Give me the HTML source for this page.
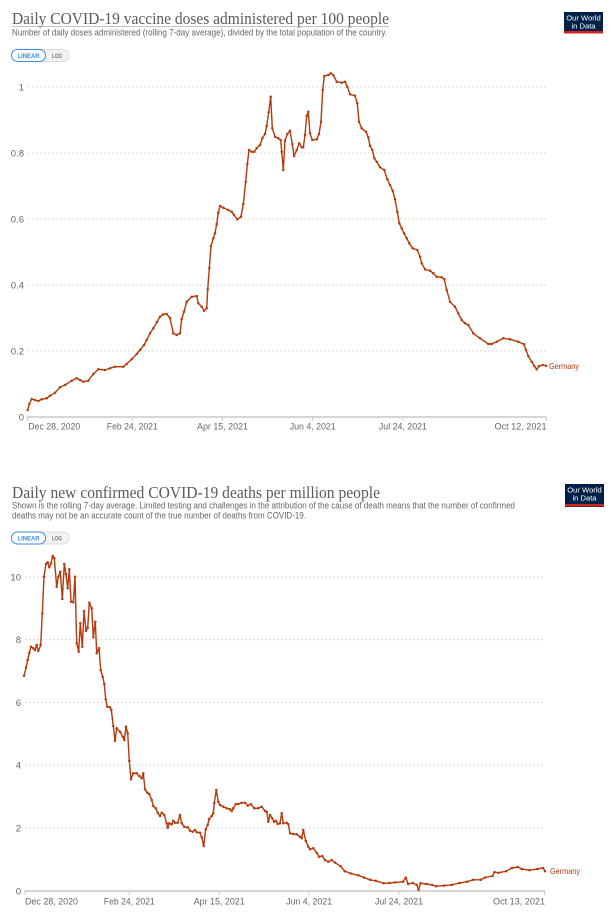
<!DOCTYPE html>
<html>
<head>
<meta charset="utf-8">
<style>
html,body{margin:0;padding:0;background:#fff;}
svg{display:block;}
text{font-family:"Liberation Sans",sans-serif;}
.ttl{font-family:"Liberation Serif",serif;font-size:17px;fill:#5b5b5b;}
.sub{font-size:9px;fill:#666;}
.yl{font-size:9.5px;fill:#666;text-anchor:end;}
.xl{font-size:9.5px;fill:#666;}
.grid{stroke:#d9d9d9;stroke-width:1;stroke-dasharray:2,2;}
.axis{stroke:#c8c8c8;stroke-width:1.5;}
.tick{stroke:#c8c8c8;stroke-width:1;}
.ser{fill:none;stroke:#b5390c;stroke-width:1.4;stroke-linejoin:round;marker-start:url(#dot);marker-mid:url(#dot);marker-end:url(#dot);}
.lab{font-size:8.5px;fill:#b5390c;}
.btn{font-size:6.5px;font-weight:bold;}
.logo{font-size:7.6px;fill:#fff;text-anchor:middle;}
</style>
</head>
<body>
<svg width="613" height="923" viewBox="0 0 613 923" xmlns="http://www.w3.org/2000/svg">
<defs>
<marker id="dot" markerWidth="4" markerHeight="4" refX="2" refY="2" markerUnits="userSpaceOnUse">
<circle cx="2" cy="2" r="1.25" fill="#b5390c"/>
</marker>
</defs>

<!-- ============ CHART 1 ============ -->
<text class="ttl" x="12" y="24" textLength="377" lengthAdjust="spacingAndGlyphs">Daily COVID-19 vaccine doses administered per 100 people</text>
<line x1="12" y1="26.5" x2="389" y2="26.5" stroke="#b0b0b0" stroke-width="0.8"/>
<text class="sub" x="12" y="35.5" textLength="375" lengthAdjust="spacingAndGlyphs">Number of daily doses administered (rolling 7-day average), divided by the total population of the country.</text>

<!-- buttons -->
<rect x="11.5" y="49.5" width="57.5" height="12" rx="6" fill="#f2f2f2" stroke="#dcdcdc" stroke-width="1"/>
<rect x="11.5" y="49.5" width="34" height="12" rx="6" fill="#fff" stroke="#3b8ee3" stroke-width="1"/>
<text class="btn" x="28.5" y="58" text-anchor="middle" fill="#3b8ee3" textLength="22" lengthAdjust="spacingAndGlyphs">LINEAR</text>
<text class="btn" x="57" y="58" text-anchor="middle" fill="#777" font-weight="normal" textLength="10" lengthAdjust="spacingAndGlyphs">LOG</text>

<!-- logo -->
<rect x="564" y="12" width="39" height="21.5" fill="#002147"/>
<rect x="564" y="31" width="39" height="2.5" fill="#ce261e"/>
<text class="logo" x="583.5" y="20.5">Our World</text>
<text class="logo" x="583.5" y="28.5">in Data</text>

<!-- grid -->
<line class="grid" x1="28" y1="87" x2="546" y2="87"/>
<line class="grid" x1="28" y1="153" x2="546" y2="153"/>
<line class="grid" x1="28" y1="219" x2="546" y2="219"/>
<line class="grid" x1="28" y1="285" x2="546" y2="285"/>
<line class="grid" x1="28" y1="351" x2="546" y2="351"/>
<text class="yl" x="24" y="90.5">1</text>
<text class="yl" x="24" y="156.5">0.8</text>
<text class="yl" x="24" y="222.5">0.6</text>
<text class="yl" x="24" y="288.5">0.4</text>
<text class="yl" x="24" y="354.5">0.2</text>
<text class="yl" x="24" y="420.5">0</text>

<!-- axis -->
<line class="axis" x1="27.3" y1="417" x2="546.7" y2="417"/>
<line class="tick" x1="27.7" y1="417" x2="27.7" y2="421"/>
<line class="tick" x1="132.3" y1="417" x2="132.3" y2="421"/>
<line class="tick" x1="222.5" y1="417" x2="222.5" y2="421"/>
<line class="tick" x1="312.7" y1="417" x2="312.7" y2="421"/>
<line class="tick" x1="402.9" y1="417" x2="402.9" y2="421"/>
<line class="tick" x1="546.2" y1="417" x2="546.2" y2="421"/>
<text class="xl" x="28.3" y="429.5" textLength="52" lengthAdjust="spacingAndGlyphs">Dec 28, 2020</text>
<text class="xl" x="132.3" y="429.5" text-anchor="middle" textLength="51" lengthAdjust="spacingAndGlyphs">Feb 24, 2021</text>
<text class="xl" x="222.5" y="429.5" text-anchor="middle" textLength="51" lengthAdjust="spacingAndGlyphs">Apr 15, 2021</text>
<text class="xl" x="312.7" y="429.5" text-anchor="middle" textLength="46" lengthAdjust="spacingAndGlyphs">Jun 4, 2021</text>
<text class="xl" x="402.9" y="429.5" text-anchor="middle" textLength="48" lengthAdjust="spacingAndGlyphs">Jul 24, 2021</text>
<text class="xl" x="546.5" y="429.5" text-anchor="end" textLength="52" lengthAdjust="spacingAndGlyphs">Oct 12, 2021</text>

<polyline class="ser" points="27.7,410 29.3,404 31.7,399 35,400 38.3,401 41.7,399.3 46.7,398.3 50,395.7 55,392.7 60,387.3 65,385 71.7,380.7 76.7,378.3 80,380 83.3,381.7 88.3,380.7 93.3,374 98.3,369.3 105,370 110,368.3 115,366.7 123.3,366.7 126.7,364 131.7,359.3 136.7,354 140,350 144,345 146.7,340 150,333.3 153.3,328.3 157,322 160,316.7 163,314.5 166.7,314 170,318 173.3,333.3 176.7,335 180,333.3 181.7,319 184,311.7 186.7,301.7 191.7,296.7 196.7,296 198.3,303.3 201.7,306.7 204,310.7 206.7,308.3 207.7,289.3 209.3,268.3 211,246 213.3,238.3 215,233.3 216.7,224 218.3,212.7 220,206 223.3,207.7 228.3,210 231.7,211.7 234,215 237.3,219.3 241,216.7 243.3,204 245.7,181.7 247.3,164.3 249,150 251.7,151.7 254.3,151.7 256.7,148.3 260,145 262.3,138.3 265,134 266.7,126 268.7,112.3 270.7,96.7 272.3,128.3 275,136.7 278.3,138.3 280.7,140 281.7,151.7 283.3,170 285,140.7 287.3,134 290,130.7 292.3,144 294,156 296.7,150 299.3,143.3 301.7,147.3 303.3,147.3 305,135 306.7,116 308.3,111.7 310,133.3 312.3,140 316.7,139.3 319,134 321,121.7 322.7,90 324.3,76 328.3,75 330.7,73.3 333.3,75 336.7,81.7 341.7,82.7 345,81.7 347.3,86.7 350,94.3 355,95.7 357.3,103.3 359,121.7 361.7,128.3 366,131.7 368.3,137.3 370,145.7 372.3,150 374.3,158.3 376.7,161.7 380,167.3 384.3,170 387.3,179.3 390,185 392.7,190.7 395,199.3 397.3,211.7 399.3,223.3 401.7,228.3 404,233.3 406.7,238.3 409.3,243.3 412.7,248.3 417.3,250 420,256.7 421.7,263.3 425,269.3 430,270.7 433.3,273.3 436.7,276.7 441.7,277.3 444.3,279.3 446.7,290 450,301.7 455,306.7 458.3,313.3 461.7,320 465,323.3 468.3,325 473.3,333.3 480,338.3 488.3,344 491.7,344 496.7,341.7 503.3,338.3 510,339.3 518.3,341.7 524,344.3 526,350 528.3,356 531.7,361.7 534.3,366 536.7,369.3 539,366 542.7,365 546,365.7"/>
<text class="lab" x="549" y="369" textLength="30" lengthAdjust="spacingAndGlyphs">Germany</text>

<!-- ============ CHART 2 ============ -->
<text class="ttl" x="12" y="498" textLength="368" lengthAdjust="spacingAndGlyphs">Daily new confirmed COVID-19 deaths per million people</text>
<text class="sub" x="12" y="508.5" textLength="503" lengthAdjust="spacingAndGlyphs">Shown is the rolling 7-day average. Limited testing and challenges in the attribution of the cause of death means that the number of confirmed</text>
<text class="sub" x="12" y="518.5" textLength="294" lengthAdjust="spacingAndGlyphs">deaths may not be an accurate count of the true number of deaths from COVID-19.</text>

<rect x="11.5" y="532" width="57.5" height="12" rx="6" fill="#f2f2f2" stroke="#dcdcdc" stroke-width="1"/>
<rect x="11.5" y="532" width="34" height="12" rx="6" fill="#fff" stroke="#3b8ee3" stroke-width="1"/>
<text class="btn" x="28.5" y="540.5" text-anchor="middle" fill="#3b8ee3" textLength="22" lengthAdjust="spacingAndGlyphs">LINEAR</text>
<text class="btn" x="57" y="540.5" text-anchor="middle" fill="#777" font-weight="normal" textLength="10" lengthAdjust="spacingAndGlyphs">LOG</text>

<rect x="565" y="484" width="39" height="23" fill="#002147"/>
<rect x="565" y="504" width="39" height="2.5" fill="#ce261e"/>
<text class="logo" x="584.5" y="492.5">Our World</text>
<text class="logo" x="584.5" y="500.5">in Data</text>

<line class="grid" x1="25" y1="577" x2="545" y2="577"/>
<line class="grid" x1="25" y1="639.6" x2="545" y2="639.6"/>
<line class="grid" x1="25" y1="702.4" x2="545" y2="702.4"/>
<line class="grid" x1="25" y1="765.2" x2="545" y2="765.2"/>
<line class="grid" x1="25" y1="828" x2="545" y2="828"/>
<text class="yl" x="21" y="580.5">10</text>
<text class="yl" x="21" y="643">8</text>
<text class="yl" x="21" y="706">6</text>
<text class="yl" x="21" y="768.7">4</text>
<text class="yl" x="21" y="831.5">2</text>
<text class="yl" x="21" y="894.5">0</text>

<line class="axis" x1="24.7" y1="891" x2="545" y2="891"/>
<line class="tick" x1="25" y1="891" x2="25" y2="895"/>
<line class="tick" x1="129.3" y1="891" x2="129.3" y2="895"/>
<line class="tick" x1="219.2" y1="891" x2="219.2" y2="895"/>
<line class="tick" x1="309.1" y1="891" x2="309.1" y2="895"/>
<line class="tick" x1="399" y1="891" x2="399" y2="895"/>
<line class="tick" x1="544.7" y1="891" x2="544.7" y2="895"/>
<text class="xl" x="25" y="904.5" textLength="53" lengthAdjust="spacingAndGlyphs">Dec 28, 2020</text>
<text class="xl" x="129.3" y="904.5" text-anchor="middle" textLength="51" lengthAdjust="spacingAndGlyphs">Feb 24, 2021</text>
<text class="xl" x="219.2" y="904.5" text-anchor="middle" textLength="51" lengthAdjust="spacingAndGlyphs">Apr 15, 2021</text>
<text class="xl" x="309.1" y="904.5" text-anchor="middle" textLength="46" lengthAdjust="spacingAndGlyphs">Jun 4, 2021</text>
<text class="xl" x="399" y="904.5" text-anchor="middle" textLength="48" lengthAdjust="spacingAndGlyphs">Jul 24, 2021</text>
<text class="xl" x="545" y="904.5" text-anchor="end" textLength="52" lengthAdjust="spacingAndGlyphs">Oct 13, 2021</text>

<polyline class="ser" points="24,675.7 26,667.7 27.7,660 29.3,652.7 31,646.7 33.3,648.3 35,650 36.7,645 38.3,651 40.7,645 42.3,613.3 44,576.7 46,564 47.7,562.3 49.3,567.3 51,563.3 52.7,556 54.3,558.3 56.7,586.7 58.3,576.7 60.3,571.7 62.3,599 64.3,564 66,574.3 67.7,588.3 69.3,569.3 71,601.7 73.3,602.3 75,576.7 76.7,643.3 78.7,651.7 80.3,623.3 82.3,646.7 84,611 86,630.7 87.7,627.7 89.3,602.7 91.7,608.3 93.3,637.3 95.3,621.7 96.7,653.3 99,648.3 100.7,670 102.7,676.7 104.3,684 105.7,699.3 107.3,706.7 110,707.3 111.3,710 113.3,726 115,740.7 116.7,728.3 120,731.7 122.7,736.7 124.3,740 126,726.7 127.7,733.3 129.3,761 131,779.3 133.3,773.3 136.7,773.3 139.3,776 141.7,778.3 143.3,773.3 145,789.3 147.3,792.7 149.3,794 151.7,800 153.3,806 155.7,808.3 157.7,812.7 160,816 161.7,812.7 164.3,815 166.7,823.3 167.7,827.7 169.3,823.3 171.7,824.3 173.3,820.7 175,822.7 177.7,822.7 180,815 181.7,823.3 184.3,826.7 187.7,827.3 190,830.7 192.7,831.7 195,830 196.7,832.3 200,832.7 201.7,837.3 203.7,846 205.7,829.3 207.7,825 209,819.3 211.7,816 213.3,813.3 214.3,802.7 216.3,790 218.3,801.7 220,805 223.3,806.7 226.7,808.3 230,809.3 231.7,811 233.3,808.3 235.7,804.3 238.3,804 241.7,802.7 245,802.7 247.7,805.7 251,804.3 254.3,808.3 258.3,808.3 261.7,806.7 265,811 266.7,811.7 268.3,821.7 270,815 272.3,818.3 274,821.7 276,820.7 277.7,824 280,823.3 281.7,813.3 283.3,823.3 286.7,822.7 288.3,824.3 290,833.3 293.3,834 296.7,834.3 300,836.7 301.7,838.3 303.3,830 305.7,840.7 308.3,846.7 310,849.3 313.3,848.3 316.7,852.7 319,856.7 322.3,856 325,860 328.3,861.7 331.7,860 335,862.6 340.8,866.4 344.7,871.2 350.6,873.4 358.3,875.3 364.2,877.6 370,879.8 375.8,880.8 383.6,883.3 389.4,883 395.3,882.4 403,881.7 405.8,877.6 408.1,884 412.8,883 416.7,884.9 418.6,889.7 420.6,883.3 426.4,884 432.2,884.9 436.1,886.2 443.9,885.6 451.7,884.9 459.5,883 467.2,881.7 473.1,879.8 480.9,879.8 484.8,877.6 492.6,876 494.5,872.1 498.4,872.8 506.1,871.2 512,868 517.8,867 521.7,869 529.5,870.2 537.3,869 543.1,868 545,871.2"/>
<text class="lab" x="550" y="874" textLength="30" lengthAdjust="spacingAndGlyphs">Germany</text>
</svg>
</body>
</html>
